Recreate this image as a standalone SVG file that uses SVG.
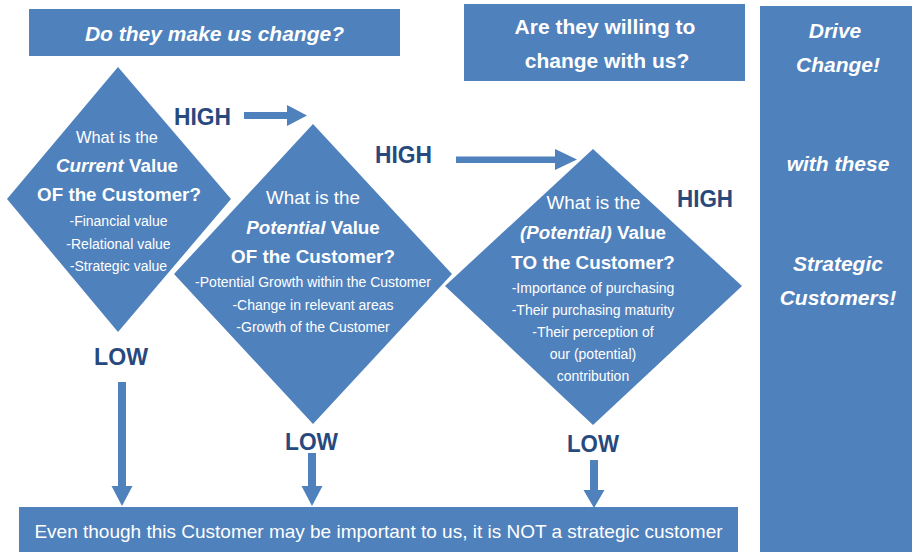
<svg xmlns="http://www.w3.org/2000/svg" width="912" height="552" viewBox="0 0 912 552">
<defs>
<style>
.box{fill:#4F81BD}
.t{font-family:"Liberation Sans",Arial,sans-serif;fill:#FFFFFF;text-anchor:middle}
.h{font-size:21px;font-weight:bold;font-style:italic}
.hb{font-size:21px;font-weight:bold}
.q{font-size:18.5px}
.b{font-size:18.8px;font-weight:bold}
.s{font-size:14px}
.i{font-style:italic}
.lab{font-family:"Liberation Sans",Arial,sans-serif;font-weight:bold;font-size:24px;fill:#27497E}
.arr{fill:#4F81BD}
</style>
</defs>
<rect width="912" height="552" fill="#FFFFFF"/>

<g id="q-make-us-change">
<rect class="box" x="29" y="9" width="371" height="47"/>
<text class="t h" x="214.5" y="41">Do they make us change?</text>
</g>

<g id="q-willing-to-change">
<rect class="box" x="464" y="4" width="281" height="77"/>
<text class="t hb" x="605" y="34">Are they willing to</text>
<text class="t hb" x="607" y="68">change with us?</text>
</g>

<g id="drive-change">
<rect class="box" x="760" y="6" width="152" height="546"/>
<text class="t h" x="835" y="38">Drive</text>
<text class="t h" x="838" y="72">Change!</text>
<text class="t h" x="838" y="171">with these</text>
<text class="t h" x="838" y="271">Strategic</text>
<text class="t h" x="838" y="305">Customers!</text>
</g>

<g id="d-current-value">
<polygon class="box" points="118,67 231,199 118,332 7,199"/>
<text class="t" style="font-size:16.4px" x="117" y="143">What is the</text>
<text class="t b" x="117" y="172"><tspan class="i">Current</tspan> Value</text>
<text class="t b" x="119" y="201">OF the Customer?</text>
<text class="t s" x="118.5" y="226">-Financial value</text>
<text class="t s" x="118.5" y="249">-Relational value</text>
<text class="t s" x="118.5" y="271">-Strategic value</text>
</g>

<g id="d-potential-value">
<polygon class="box" points="313,124 452,274 313,424 174,274"/>
<text class="t b" style="font-weight:normal" x="313" y="204">What is the</text>
<text class="t b" x="313" y="234"><tspan class="i">Potential</tspan> Value</text>
<text class="t b" x="313" y="263">OF the Customer?</text>
<text class="t s" x="313" y="287">-Potential Growth within the Customer</text>
<text class="t s" x="313" y="310">-Change in relevant areas</text>
<text class="t s" x="313" y="332">-Growth of the Customer</text>
</g>

<g id="d-value-to-customer">
<polygon class="box" points="593,149 742,286 593,425 445,286"/>
<text class="t b" style="font-weight:normal" x="593.5" y="209">What is the</text>
<text class="t b" x="593" y="239"><tspan class="i">(Potential)</tspan> Value</text>
<text class="t b" x="593" y="269">TO the Customer?</text>
<text class="t s" x="593" y="293">-Importance of purchasing</text>
<text class="t s" x="593" y="315">-Their purchasing maturity</text>
<text class="t s" x="593" y="337">-Their perception of</text>
<text class="t s" x="593" y="359">our (potential)</text>
<text class="t s" x="593" y="381">contribution</text>
</g>

<g id="not-strategic">
<rect class="box" x="19" y="507" width="719" height="45"/>
<text class="t" style="font-size:19px" x="378.5" y="538">Even though this Customer may be important to us, it is NOT a strategic customer</text>
</g>

<g id="connectors">
<polygon class="arr" points="244,112 287,112 287,105 307,115.5 287,126 287,119 244,119"/>
<polygon class="arr" points="456,156.5 555,156.5 555,149 577,159.5 555,170 555,163 456,163"/>
<polygon class="arr" points="118,382 126,382 126,486 132.5,486 122,506 111.5,486 118,486"/>
<polygon class="arr" points="308,453 316,453 316,486 322.5,486 312,506 301.5,486 308,486"/>
<polygon class="arr" points="590,460 598,460 598,490 604.5,490 594,508 583.5,490 590,490"/>
<text class="lab" x="174" y="125" textLength="57" lengthAdjust="spacingAndGlyphs">HIGH</text>
<text class="lab" x="375" y="163" textLength="57" lengthAdjust="spacingAndGlyphs">HIGH</text>
<text class="lab" x="677" y="207" textLength="56" lengthAdjust="spacingAndGlyphs">HIGH</text>
<text class="lab" x="94" y="365" textLength="54" lengthAdjust="spacingAndGlyphs">LOW</text>
<text class="lab" x="285" y="450" textLength="53" lengthAdjust="spacingAndGlyphs">LOW</text>
<text class="lab" x="567" y="452" textLength="52" lengthAdjust="spacingAndGlyphs">LOW</text>
</g>
</svg>
